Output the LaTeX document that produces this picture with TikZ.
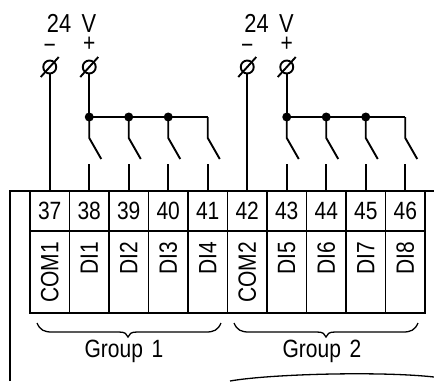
\documentclass[tikz,border=0pt]{standalone}
\usepackage{fontspec}
\setmainfont{Liberation Sans}[FakeStretch=0.84]
\begin{document}
\begin{tikzpicture}[x=1pt,y=-1pt,line width=1.9pt,
  txt/.style={inner sep=0pt,font=\fontsize{25}{30}\selectfont},
  volt/.style={txt,font=\fontsize{26}{30}\selectfont},
  term/.style={circle,draw,minimum size=13pt,inner sep=0pt},
  numcell/.style={draw,minimum width=39.5pt,minimum height=40pt,inner sep=0pt},
  labcell/.style={draw,minimum width=39.5pt,minimum height=82pt,inner sep=0pt},
  lab/.style={txt,rotate=90,anchor=east},
  dot/.style={circle,fill,inner sep=0pt,minimum size=9pt},
  brace/.style={line width=1.3pt}]
\useasboundingbox (0,0) rectangle (434,381);
% outer frame
\coordinate (fa) at (10,381);
\coordinate (fb) at (10,191);
\coordinate (fc) at (434,191);
\draw (fa) -- (fb) -- (fc);
% terminal block cells
\foreach \i/\num/\lbl in {0/37/COM1,1/38/DI1,2/39/DI2,3/40/DI3,4/41/DI4,5/42/COM2,6/43/DI5,7/44/DI6,8/45/DI7,9/46/DI8}{
  \pgfmathsetmacro\cx{49.75+39.5*\i}
  \node[numcell] (n\num) at (\cx,211) {};
  \node[txt] (t\num) at (\cx,211) {\num};
  \node[labcell] (c\num) at (\cx,272) {};
  \node[lab] (l\num) at (\cx,241) {\lbl};
}
% supplies and switches
\foreach \g/\ta/\tb/\tc/\td/\te in {0/37/38/39/40/41,1/42/43/44/45/46}{
  \pgfmathsetmacro\ox{197.5*\g}
  \node[volt] (v\g) at (71.5+\ox,23) {24\hspace{0.4em}V};
  \node[txt] (m\g) at (49.75+\ox,49) {−};
  \node[txt] (p\g) at (89.25+\ox,44) {+};
  \node[term] (tm\g) at (49.75+\ox,67) {};
  \node[term] (tp\g) at (89.25+\ox,67) {};
  \draw ([shift={(-9,10)}]tm\g.center) -- ([shift={(9,-10)}]tm\g.center);
  \draw ([shift={(-9,10)}]tp\g.center) -- ([shift={(9,-10)}]tp\g.center);
  \draw (tm\g) -- (n\ta.north);
  \foreach \k/\n in {1/\tb,2/\tc,3/\td,4/\te}{
    \coordinate (j\g\k) at (49.75+\ox+39.5*\k,117);
    \coordinate (s\g\k) at (49.75+\ox+39.5*\k,138);
    \coordinate (e\g\k) at (61.75+\ox+39.5*\k,159);
    \coordinate (q\g\k) at (49.75+\ox+39.5*\k,164);
    \draw (j\g\k) -- (s\g\k) -- (e\g\k);
    \draw (q\g\k) -- (n\n.north);
  }
  \draw (tp\g) -- (j\g1) -- (j\g4);
  \foreach \k in {1,2,3}{\node[dot] (d\g\k) at (j\g\k) {};}
}
% braces
\draw[brace] (37,323) .. controls (40,330) and (44,332) .. (52,332) -- (119,332)
  .. controls (125,332) and (127,334) .. (128,337)
  .. controls (129,334) and (131,332) .. (137,332) -- (206,332)
  .. controls (214,332) and (218,330) .. (221,323);
\draw[brace] (234,323) .. controls (237,330) and (241,332) .. (249,332) -- (317,332)
  .. controls (323,332) and (325,334) .. (326,337)
  .. controls (327,334) and (329,332) .. (335,332) -- (403,332)
  .. controls (411,332) and (415,330) .. (418,323);
\node[txt] (g1) at (124,351) {Group\hspace{0.35em}1};
\node[txt] (g2) at (322,351) {Group\hspace{0.35em}2};
% bottom arc
\coordinate (ba) at (230,381);
\coordinate (bb) at (434,377);
\draw[line width=1.3pt] (ba) .. controls (270,374) and (380,371) .. (bb);
\end{tikzpicture}
\end{document}
